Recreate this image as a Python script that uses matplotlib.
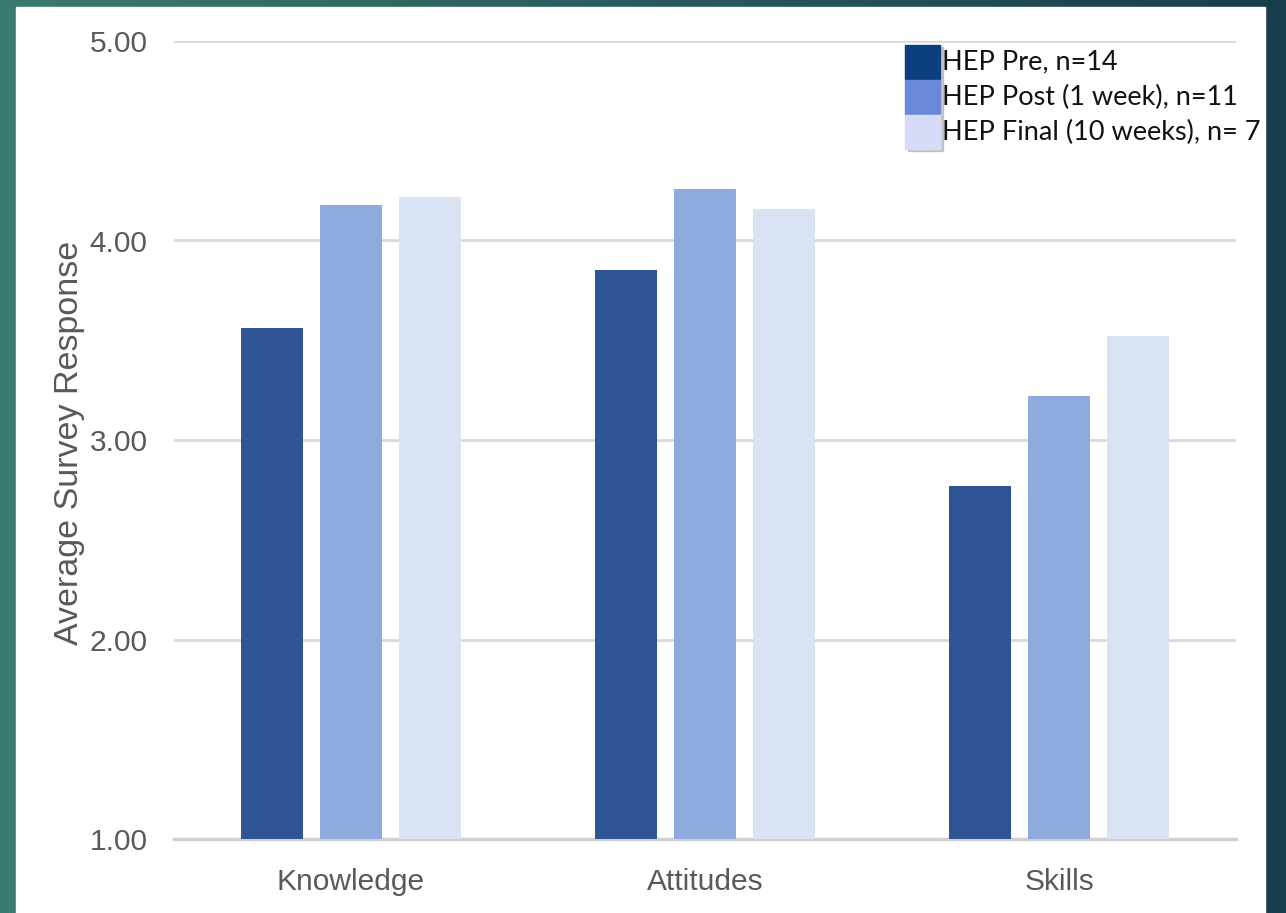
import numpy as np
import matplotlib
matplotlib.use("Agg")
import matplotlib.pyplot as plt
from matplotlib.patches import Rectangle

categories = ["Knowledge", "Attitudes", "Skills"]
series_names = ["HEP Pre, n=14", "HEP Post (1 week), n=11", "HEP Final (10 weeks), n= 7"]
pre = [3.56, 3.85, 2.77]
post = [4.18, 4.26, 3.22]
final = [4.22, 4.16, 3.52]
yticks = [1.0, 2.0, 3.0, 4.0, 5.0]

bar_colors = ["#2f5597", "#8faadc", "#dae3f3"]
legend_colors = ["#0b3f80", "#6a88d8", "#d6dcf8"]

W, H, DPI = 1286, 913, 100
fig = plt.figure(figsize=(W / DPI, H / DPI), dpi=DPI)

# background gradient (slide)
bg = fig.add_axes([0, 0, 1, 1])
grad = np.linspace(0, 1, 256)
c0 = np.array([0.23, 0.48, 0.43])
c1 = np.array([0.09, 0.24, 0.30])
img = (c0[None, :] * (1 - grad[:, None]) + c1[None, :] * grad[:, None])[None, :, :]
bg.imshow(img, aspect="auto", extent=[0, 1, 0, 1])
panel = Rectangle((16 / W, 0), (1265 - 16) / W, 1 - 7 / H, color="white", zorder=2)
bg.add_patch(panel)
bg.set_xlim(0, 1); bg.set_ylim(0, 1)
bg.axis("off")

ax = fig.add_axes([174 / W, 1 - 839 / H, (1236 - 174) / W, (839 - 41) / H])
ax.patch.set_alpha(0)
x = np.arange(len(categories))
width = 0.175
offset = 0.222
for i, (vals, col) in enumerate(zip([pre, post, final], bar_colors)):
    ax.bar(x + (i - 1) * offset, np.array(vals) - 1.0, width, bottom=1.0, color=col, zorder=3)

ax.set_xlim(-0.5, 2.5)
ax.set_ylim(1.0, 5.0)
ax.set_yticks(yticks)
ax.set_yticklabels([f"{v:.2f}" for v in yticks])
ax.set_xticks(x)
ax.set_xticklabels(categories)
ax.grid(axis="y", color="#d9d9d9", linewidth=2, zorder=0)
for s in ["top", "right", "left"]:
    ax.spines[s].set_visible(False)
ax.spines["bottom"].set_color("#d0d0d0")
ax.spines["bottom"].set_linewidth(2.5)
ax.tick_params(axis="both", length=0, labelsize=21.5, labelcolor="#595959")
ax.tick_params(axis="y", pad=19)
ax.tick_params(axis="x", pad=21)
for lab in ax.get_xticklabels() + ax.get_yticklabels():
    lab.set_family("Liberation Sans")
ax.set_ylabel("Average Survey Response", fontsize=24.5, color="#595959", family="Liberation Sans")
ax.yaxis.set_label_coords(-0.084, 0.497)

# legend (manual, as in the slide)
ys = [62, 97, 132]
for name, col, yc in zip(series_names, legend_colors, ys):
    bg.add_patch(Rectangle((908 / W, 1 - (yc + 19) / H), 35 / W, 34 / H, color="#999999", alpha=0.5, zorder=3))
    bg.add_patch(Rectangle((905 / W, 1 - (yc + 17) / H), 35 / W, 34 / H, color=col, zorder=4))
    t = bg.text(942 / W, 1 - yc / H, name, fontsize=19.5, color="#111111", family="Lato",
                va="center", ha="left", zorder=5)
    t.set_clip_path(panel)

fig.savefig("out.png", dpi=DPI)
